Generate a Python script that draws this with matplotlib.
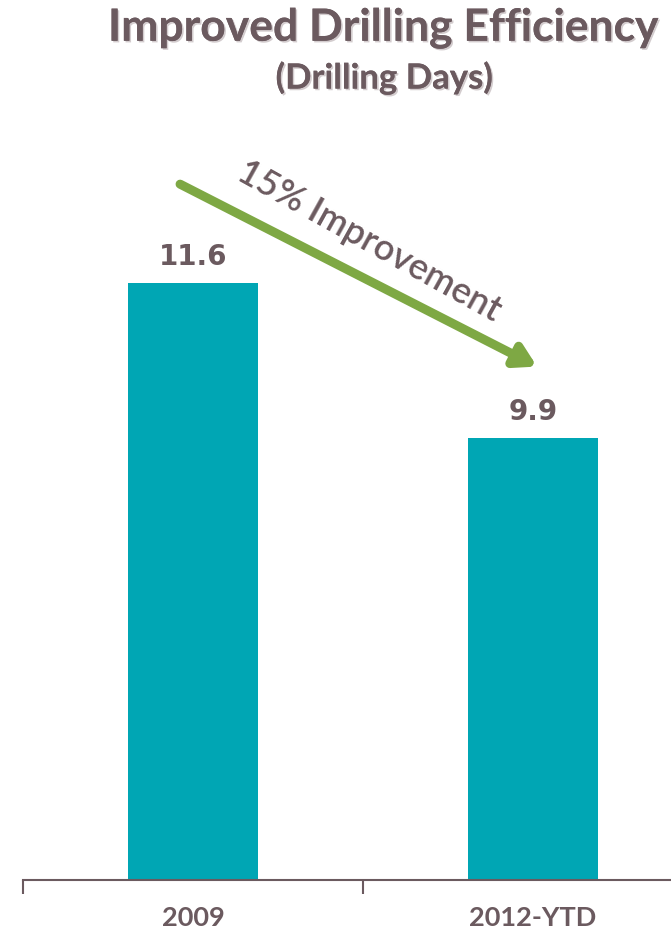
import matplotlib

matplotlib.use("Agg")
import matplotlib.pyplot as plt
import matplotlib.patheffects as pe

categories = ["2009", "2012-YTD"]
drilling_days = [11.6, 9.9]
value_labels = ["11.6", "9.9"]
arrow_text = "15% Improvement"
title = "Improved Drilling Efficiency"
subtitle = "(Drilling Days)"

TEXT = "#6b5a5f"
BAR = "#00a6b4"
GREEN = "#7ea844"
shadow = [pe.withSimplePatchShadow(offset=(1.2, -1.2), shadow_rgbFace="#c8c0c2", alpha=0.8), pe.Normal()]

plt.rcParams["font.family"] = ["Lato", "DejaVu Sans"]

fig = plt.figure(figsize=(6.71, 9.39), dpi=100)
ax = fig.add_axes([23 / 671, 1 - 880 / 939, 648 / 671, 880 / 939])

x = range(len(categories))
ax.bar(x, drilling_days, width=0.385, color=BAR)

for xi, v, lab in zip(x, drilling_days, value_labels):
    ax.text(xi, v + 0.13, lab, ha="center", va="bottom", fontsize=20,
            fontweight="bold", color=TEXT, family="DejaVu Sans")

ax.set_xticks(list(x))
ax.set_xticklabels(categories, fontsize=19.5, fontweight="bold", color=TEXT)
ax.set_xticks([-0.5, 0.5], minor=True)
ax.tick_params(axis="x", which="major", length=0, pad=19)
ax.tick_params(axis="x", which="minor", length=10, width=1.5, color=TEXT, direction="out")
ax.set_yticks([])
ax.set_xlim(-0.5, 1.406)
ax.set_ylim(5.05, 5.05 + 880 / 91.2)
for s in ("top", "right", "left"):
    ax.spines[s].set_visible(False)
ax.spines["bottom"].set_color(TEXT)
ax.spines["bottom"].set_linewidth(1.5)

ax.annotate("", xy=(1.012, 10.68), xytext=(-0.038, 12.68),
            arrowprops=dict(arrowstyle="-|>,head_length=1.2,head_width=0.7",
                            color=GREEN, lw=6.5, shrinkA=0, shrinkB=0))
ax.text(0.52, 12.05, arrow_text, ha="center", va="center", rotation=-29,
        rotation_mode="anchor", fontsize=26, fontweight="semibold", color=TEXT)

fig.text(383.5 / 671, 1 - 28 / 939, title, ha="center", va="center", fontsize=32,
         fontweight="bold", color=TEXT, path_effects=shadow)
fig.text(384 / 671, 1 - 78 / 939, subtitle, ha="center", va="center", fontsize=25,
         fontweight="bold", color=TEXT, path_effects=shadow)

fig.savefig("out.png", dpi=100)
